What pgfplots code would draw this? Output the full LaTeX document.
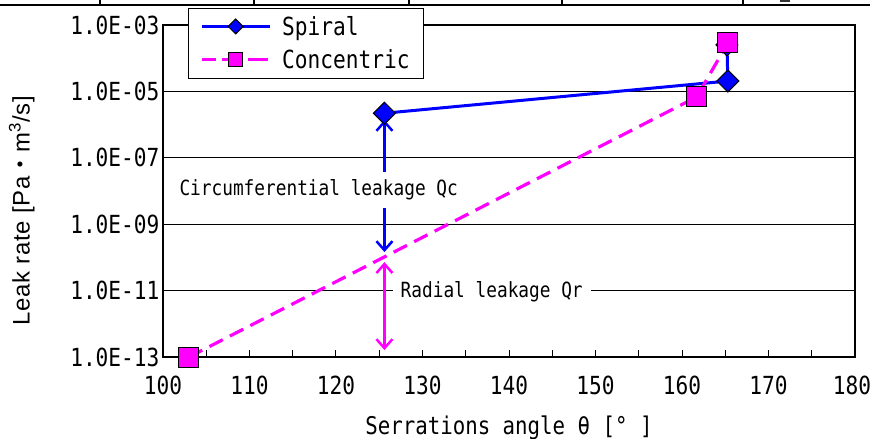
\documentclass[border=0pt]{standalone}
\usepackage{pgfplots}
\pgfplotsset{compat=1.18}
\usetikzlibrary{arrows.meta}
\usepackage{fontspec}
\setmainfont{Liberation Sans}
\newfontfamily\mono[FakeStretch=0.85]{DejaVu Sans Mono}
\newfontfamily\cjk{Noto Sans CJK JP}
\definecolor{spblue}{RGB}{0,0,255}
\definecolor{cmag}{RGB}{255,0,255}
\newcommand\bigmono{\mono\fontsize{25}{28}\selectfont}
\newcommand\legmono{\mono\fontsize{25}{28}\selectfont}
\newcommand\xlmono{\mono\fontsize{24.5}{28}\selectfont}
\newcommand\annmono{\mono\fontsize{21}{24}\selectfont}
\begin{document}
\begin{tikzpicture}
\begin{axis}[name=a, scale only axis, width=692bp, height=332bp,
  xmin=100, xmax=180, ymode=log, ymin=1e-13, ymax=1e-3,
  xtick={100,110,...,180}, minor xtick={105,115,...,175},
  xticklabels={100,110,120,130,140,150,160,170,{\hspace*{-6bp}180}},
  ytick={1e-13,1e-11,1e-9,1e-7,1e-5,1e-3},
  yticklabels={1.0E-13,1.0E-11,1.0E-09,1.0E-07,1.0E-05,1.0E-03},
  yminorticks=false,
  /pgf/number format/assume math mode=true,
  ymajorgrids, major grid style={black, line width=0.8bp},
  tick align=inside, xtick pos=bottom, ytick pos=left,
  major tick length=7bp, minor tick length=7bp,
  every tick/.style={black, line width=1bp},
  axis line style={line width=1.5bp},
  xticklabel style={font=\bigmono, yshift=-15bp},
  yticklabel style={font=\bigmono, xshift=0bp},
  xlabel={Serrations angle θ [° ]},
  xlabel style={font=\xlmono, at={(axis description cs:0.5,-0.214)}, anchor=center},
  ylabel={Leak rate [Pa{\cjk ・}m\textsuperscript{3}/s]},
  ylabel style={font=\fontsize{24}{28}\selectfont\addfontfeature{LetterSpace=3}, at={(axis description cs:-0.204,0.44)}, anchor=center},
  clip=false,
  legend style={at={(axis description cs:0.0361,1.0512)}, anchor=north west, draw=black, fill=white, font=\legmono, inner xsep=12bp, inner ysep=6bp, row sep=9bp, cells={anchor=west}, /tikz/every odd column/.append style={column sep=9bp}},
  legend image code/.code={\draw[mark repeat=2,mark phase=2,#1,line width=3bp] plot coordinates {(0bp,0bp) (34bp,0bp) (68bp,0bp)};},
]
\addlegendimage{spblue, mark=square*, mark size=5.3bp, mark options={rotate=45, fill=spblue, draw=black, line width=1bp}}
\addlegendentry{Spiral}
\addlegendimage{cmag, dash pattern=on 20bp off 6bp, dash phase=6bp, mark=square*, mark size=7bp, mark options={fill=cmag, draw=black, line width=1bp, solid}}
\addlegendentry{Concentric}

\addplot[forget plot, spblue, line width=3bp, mark=square*, mark size=7.8bp, mark options={rotate=45, fill=spblue, draw=black, line width=1bp, solid}] coordinates {(125.6,2.2e-6) (165.3,2.05e-5) (165.2,2.5e-4)};
\addplot[forget plot, cmag, line width=3.2bp, dash pattern=on 15bp off 8bp, mark=square*, mark size=10bp, mark options={fill=cmag, draw=black, line width=1bp, solid}] coordinates {(103.0,1e-13) (161.7,6.8e-6) (165.3,2.9e-4)};

\draw[spblue, line width=2.5bp, {Straight Barb[length=9bp,width=16bp]}-{Straight Barb[length=9bp,width=16bp]}] (axis cs:125.6,1.38e-6) -- (axis cs:125.6,1.45e-10);
\draw[cmag, line width=2.5bp, {Straight Barb[length=9bp,width=16bp]}-{Straight Barb[length=9bp,width=16bp]}] (axis cs:125.6,7.2e-11) -- (axis cs:125.6,1.62e-13);
\node[fill=white, inner xsep=3bp, inner ysep=8bp, font=\annmono] at (axis cs:118.0,1.07e-8) {Circumferential leakage Qc};
\node[fill=white, inner xsep=8bp, inner ysep=4bp, font=\annmono] at (axis cs:138.0,9.1e-12) {Radial leakage Qr};
\end{axis}
\draw[line width=2.5bp] ([xshift=-163bp,yshift=20bp]a.north west) -- ([xshift=707bp,yshift=20bp]a.north west);
\foreach \dx in {-63,91,246,399,580} \draw[line width=1.5bp] ([xshift=\dx bp,yshift=20bp]a.north west) -- ([xshift=\dx bp,yshift=26bp]a.north west);
\fill[black!80] ([xshift=617bp,yshift=23bp]a.north west) rectangle ([xshift=627bp,yshift=25bp]a.north west);
\pgfresetboundingbox
\path[use as bounding box] ([xshift=-163bp,yshift=25bp]a.north west) rectangle ([xshift=15bp,yshift=-82bp]a.south east);
\end{tikzpicture}
\end{document}
